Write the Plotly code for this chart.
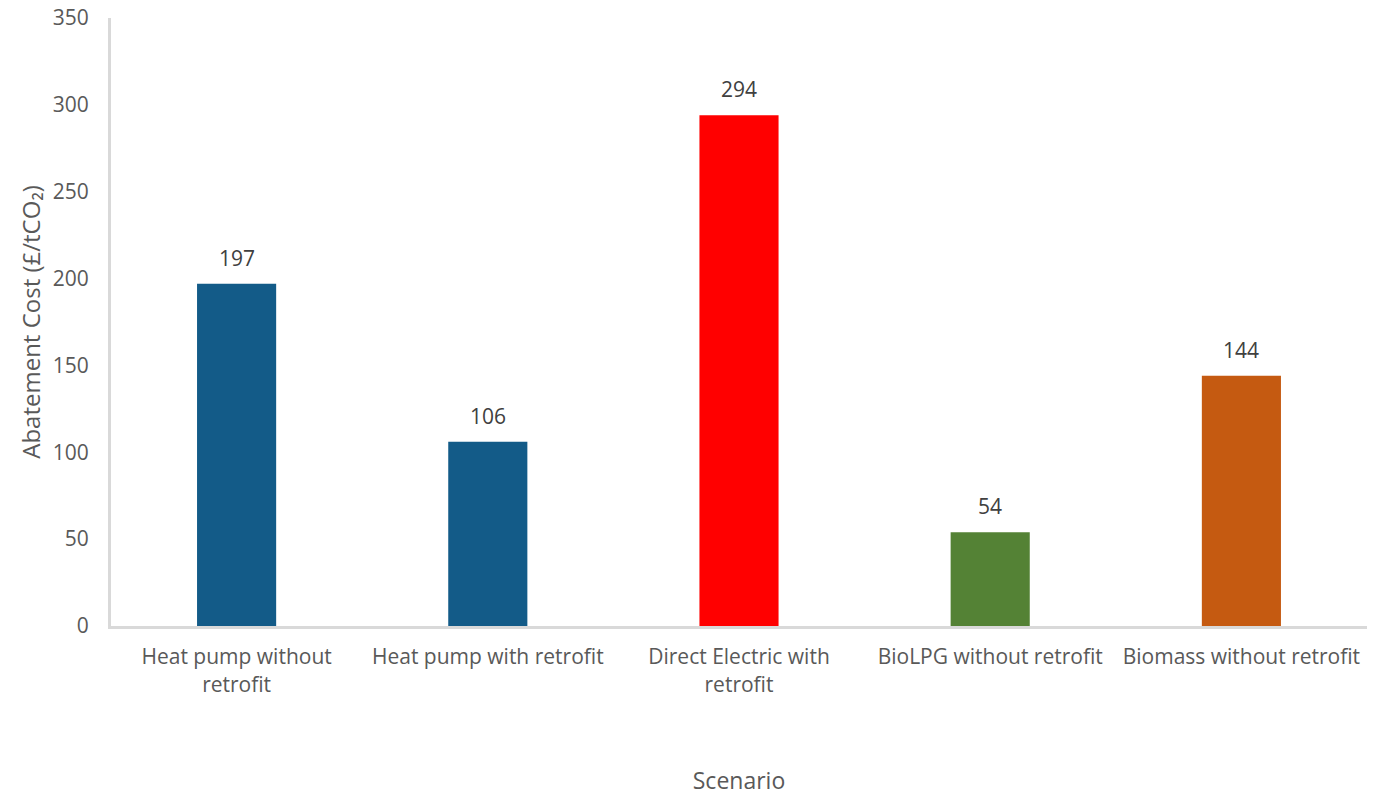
import plotly.graph_objects as go

categories = ["Heat pump without<br>retrofit", "Heat pump with retrofit", "Direct Electric with<br>retrofit",
              "BioLPG without retrofit", "Biomass without retrofit"]
values = [197, 106, 294, 54, 144]
colors = ["#135B88", "#135B88", "#FF0000", "#548235", "#C55A11"]
y_ticks = [0, 50, 100, 150, 200, 250, 300, 350]

FONT = "Open Sans, Noto Sans, sans-serif"

fig = go.Figure()
fig.add_trace(go.Bar(x=categories, y=values, marker=dict(color=colors, line=dict(width=0)),
                     width=0.315, hoverinfo="x+y"))

for c, v in zip(categories, values):
    fig.add_annotation(x=c, y=v, text=str(v), showarrow=False, yshift=26,
                       font=dict(family=FONT, size=21, color="#404040"))

fig.update_layout(
    width=1389, height=796,
    margin=dict(l=111, r=22, t=18, b=170, autoexpand=False),
    paper_bgcolor="white", plot_bgcolor="white",
    showlegend=False,
    font=dict(family=FONT, size=21, color="#595959"),
    xaxis=dict(showline=True, linecolor="#D9D9D9", linewidth=3, ticks="", showgrid=False,
               automargin=False,
               tickfont=dict(size=21, color="#595959"), ticklabelstandoff=10,
               title=dict(text="Scenario", font=dict(size=23, color="#595959"), standoff=82)),
    yaxis=dict(range=[0, 350], tickvals=y_ticks, showline=True, linecolor="#D9D9D9", linewidth=3,
               showgrid=False, zeroline=False, ticks="", ticklabelstandoff=15, automargin=False,
               tickfont=dict(size=21, color="#595959"),
               title=dict(text="Abatement Cost (£/tCO₂)", font=dict(size=24, color="#595959"), standoff=6)),
)

fig.write_html("out.html")
